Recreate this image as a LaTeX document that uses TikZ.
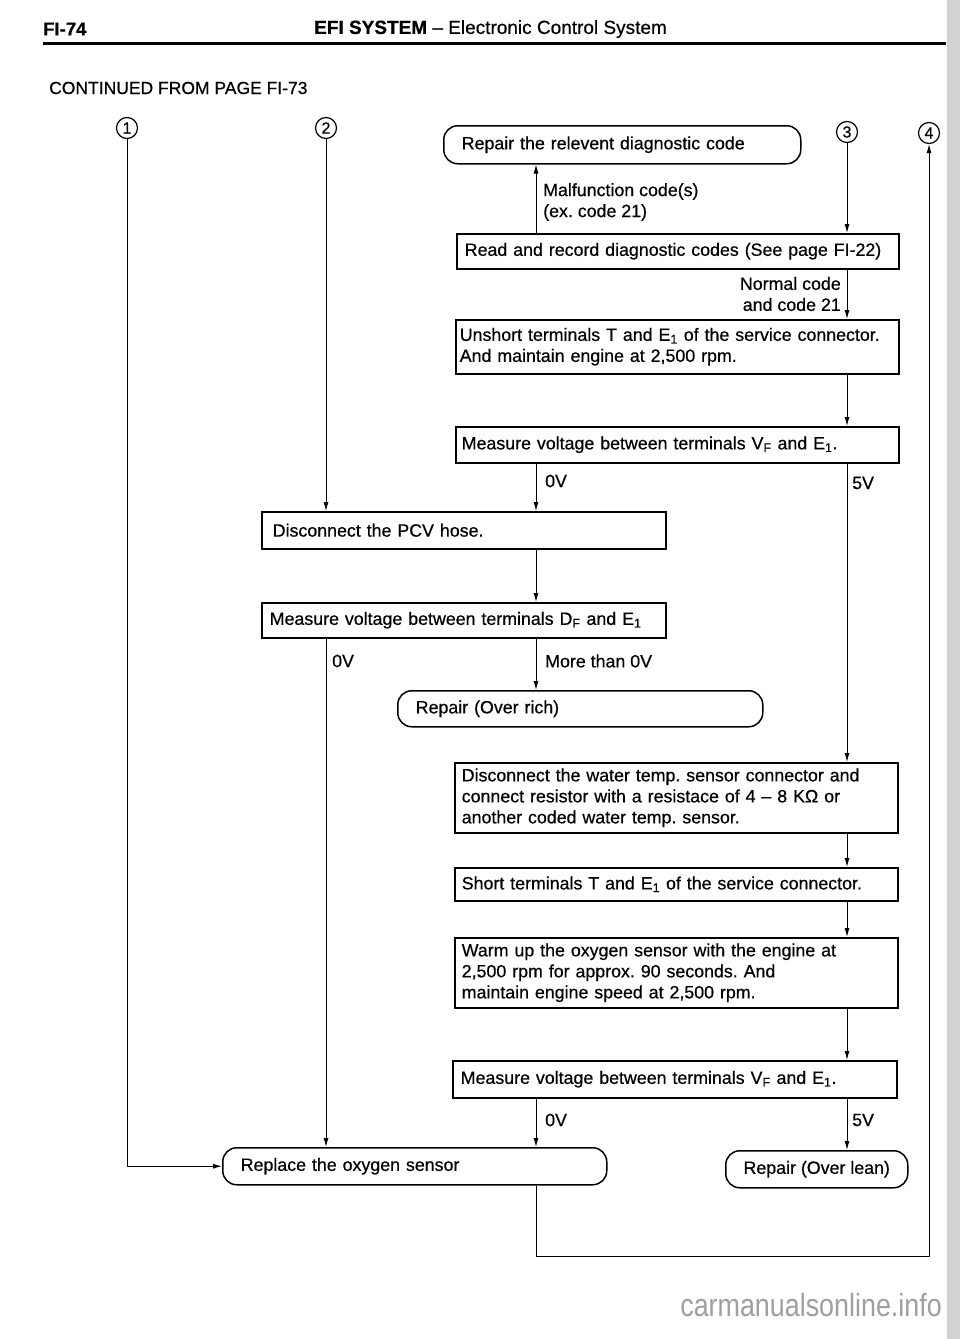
\documentclass[tikz,border=0pt]{standalone}
\usepackage{fontspec}
\setmainfont{Liberation Sans}[FakeBold=0.5]
\newfontfamily\markfont[FakeStretch=0.84]{Liberation Sans}
\usetikzlibrary{arrows.meta}
\frenchspacing

\begin{document}
\begin{tikzpicture}[x=1pt,y=-1pt,
		box/.style={draw,line width=1.5pt,anchor=north west,align=left,inner ysep=0pt,font=\fontsize{17.8}{21}\selectfont},
		rbox/.style={box,rounded corners=14pt,inner xsep=18pt},
		num/.style={draw,circle,line width=1.2pt,minimum size=21pt,inner sep=0pt,font=\fontsize{16}{16}\selectfont},
		lab/.style={anchor=west,inner sep=0pt,align=left,font=\fontsize{17.8}{21}\selectfont},
		flow/.style={line width=1pt,-{Latex[length=9pt,width=5pt]}}]
	\fill[white] (0,0) rectangle (960,1339);
	\useasboundingbox (0,0) rectangle (960,1339);
	\fill[gray!35] (947,0) rectangle (960,1339);
	\node[anchor=west,inner sep=0pt,font=\fontsize{18.5}{18}\selectfont\bfseries] (pageno) at (43,29) {FI-74};
	\node[anchor=west,inner sep=0pt,font=\fontsize{19}{18}\selectfont] (title) at (314,29) {\textbf{EFI SYSTEM} – Electronic Control System};
	\draw[line width=3pt] (43,43) -- (946,43);
	\node[anchor=west,inner sep=0pt,font=\fontsize{17.5}{18}\selectfont] (contd) at (49,88) {CONTINUED FROM PAGE FI-73};

	\node[num] (c1) at (127,128) {1};
	\node[num] (c2) at (326,128) {2};
	\node[num] (c3) at (847,132) {3};
	\node[num] (c4) at (929,133) {4};
	\coordinate (colA) at (536,0);
	\coordinate (loopy) at (0,1256);

	\node[rbox,text width=321pt,minimum height=38pt] (repcode) at (443,125) {Repair the relevent diagnostic code};
	\node[box,text width=426pt,minimum height=35pt,inner xsep=8pt] (read) at (456,233) {Read and record diagnostic codes (See page FI-22)};
	\node[box,text width=435pt,minimum height=54pt,inner xsep=4pt] (unshort) at (455,319) {Unshort terminals T and E\textsubscript{1} of the service connector.\\And maintain engine at 2,500 rpm.};
	\node[box,text width=431pt,minimum height=36pt,inner xsep=6pt] (measvf) at (455,426) {Measure voltage between terminals V\textsubscript{F} and E\textsubscript{1}.};
	\node[box,text width=382pt,minimum height=37pt,inner xsep=11pt] (pcv) at (261,511) {Disconnect the PCV hose.};
	\node[box,text width=388pt,minimum height=35pt,inner xsep=8pt] (measdf) at (261,602) {Measure voltage between terminals D\textsubscript{F} and E\textsubscript{1}};
	\node[rbox,text width=329pt,minimum height=36pt] (rich) at (397,690) {Repair (Over rich)};
	\node[box,text width=429pt,minimum height=70pt,inner xsep=7pt] (water) at (454,762) {Disconnect the water temp. sensor connector and\\connect resistor with a resistace of 4 – 8 KΩ or\\another coded water temp. sensor.};
	\node[box,text width=429pt,minimum height=33pt,inner xsep=7pt] (short) at (454,867) {Short terminals T and E\textsubscript{1} of the service connector.};
	\node[box,text width=429pt,minimum height=70pt,inner xsep=7pt] (warm) at (454,937) {Warm up the oxygen sensor with the engine at\\2,500 rpm for approx. 90 seconds. And\\maintain engine speed at 2,500 rpm.};
	\node[box,text width=428pt,minimum height=37pt,inner xsep=8pt] (measvf2) at (452,1060) {Measure voltage between terminals V\textsubscript{F} and E\textsubscript{1}.};
	\node[rbox,text width=348pt,minimum height=37pt] (replace) at (222,1147) {Replace the oxygen sensor};
	\node[rbox,align=center,minimum width=182pt,minimum height=37pt,inner xsep=4pt] (lean) at (725,1150) {Repair (Over lean)};

	\node[lab] (malf) at (543,202) {Malfunction code(s)\\(ex. code 21)};
	\node[lab,anchor=east,align=right] (normal) at (841,294) {Normal code\\and code 21};
	\node[lab] (zeroa) at (545,481) {0V};
	\node[lab] (fivea) at (852,483) {5V};
	\node[lab] (zerob) at (332,661) {0V};
	\node[lab] (more) at (545,661) {More than 0V};
	\node[lab] (zeroc) at (545,1120) {0V};
	\node[lab] (fivec) at (852,1120) {5V};

	\draw[flow] (c1) -- (c1 |- replace.west) -- (replace.west);
	\draw[flow] (c2) -- (c2 |- pcv.north);
	\draw[flow] (c3) -- (c3 |- read.north);
	\draw[flow] (read.north -| colA) -- (repcode.south -| colA);
	\draw[flow] (read.south -| c3) -- (unshort.north -| c3);
	\draw[flow] (unshort.south -| c3) -- (measvf.north -| c3);
	\draw[flow] (measvf.south -| colA) -- (pcv.north -| colA);
	\draw[flow] (measvf.south -| c3) -- (water.north -| c3);
	\draw[flow] (pcv.south -| colA) -- (measdf.north -| colA);
	\draw[flow] (measdf.south -| c2) -- (replace.north -| c2);
	\draw[flow] (measdf.south -| colA) -- (rich.north -| colA);
	\draw[flow] (water.south -| c3) -- (short.north -| c3);
	\draw[flow] (short.south -| c3) -- (warm.north -| c3);
	\draw[flow] (warm.south -| c3) -- (measvf2.north -| c3);
	\draw[flow] (measvf2.south -| colA) -- (replace.north -| colA);
	\draw[flow] (measvf2.south -| c3) -- (lean.north -| c3);
	\draw[flow] (replace.south -| colA) -- (colA |- loopy) -- (c4 |- loopy) -- (c4);

	\node[anchor=east,inner sep=0pt,text=gray!75,font=\fontsize{32}{32}\markfont] (wmark) at (942,1305) {carmanualsonline.info};
\end{tikzpicture}
\end{document}
